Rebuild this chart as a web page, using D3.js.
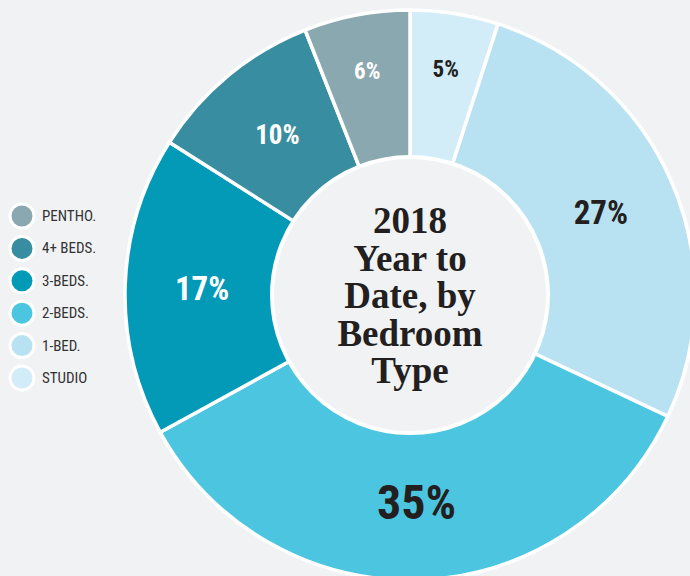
<!DOCTYPE html>
<html>
<head>
<meta charset="utf-8">
<script src="https://cdn.jsdelivr.net/npm/d3@7"></script>
<style>
  html, body { margin: 0; padding: 0; background: #f1f2f4; }
  svg { display: block; }
</style>
</head>
<body>
<svg id="chart" width="690" height="576"></svg>
<script>
// Share of sales by bedroom type, clockwise from 12 o'clock
const categories = ["STUDIO", "1-BED.", "2-BEDS.", "3-BEDS.", "4+ BEDS.", "PENTHO."];
const shares = [5, 27, 35, 17, 10, 6];
const colors = ["#d2edf8", "#b8e2f2", "#4cc6e0", "#039ab8", "#388ea0", "#8aa8af"];
const labelColors = ["#231f20", "#231f20", "#231f20", "#ffffff", "#ffffff", "#ffffff"];
const labelSizes = [23, 33, 48, 33, 27, 23];
const legendOrder = ["PENTHO.", "4+ BEDS.", "3-BEDS.", "2-BEDS.", "1-BED.", "STUDIO"];
const titleLines = ["2018", "Year to", "Date, by", "Bedroom", "Type"];

const svg = d3.select("#chart");
const W = 690, H = 576;
const cx = 410, cy = 295;
const outerR = 285, innerR = 138;
const condensed = "'Liberation Sans Narrow', 'Roboto Condensed', 'Arial Narrow', sans-serif";

svg.append("rect").attr("width", W).attr("height", H).attr("fill", "#f1f2f4");

const color = d3.scaleOrdinal().domain(categories).range(colors);

const pie = d3.pie().sort(null).value(d => d.value);
const arcs = pie(categories.map((c, i) => ({ name: c, value: shares[i], i })));

const arc = d3.arc().innerRadius(0).outerRadius(outerR);
const g = svg.append("g").attr("transform", `translate(${cx},${cy})`);

g.selectAll("path.slice")
  .data(arcs)
  .join("path")
  .attr("class", "slice")
  .attr("d", arc)
  .attr("fill", d => color(d.data.name))
  .attr("stroke", "#ffffff")
  .attr("stroke-width", 3.5)
  .attr("stroke-linejoin", "round");

// center hole
g.append("circle")
  .attr("r", innerR)
  .attr("fill", "#f1f2f4")
  .attr("stroke", "#ffffff")
  .attr("stroke-width", 4);

// percentage labels
const labelArcBig = d3.arc().innerRadius(208).outerRadius(208);
const labelArcSmall = d3.arc().innerRadius(228).outerRadius(228);
g.selectAll("text.pct")
  .data(arcs)
  .join("text")
  .attr("class", "pct")
  .attr("transform", d => {
    const a = d.data.value < 8 ? labelArcSmall : labelArcBig;
    const [x, y] = a.centroid(d);
    return `translate(${x},${y})`;
  })
  .attr("text-anchor", "middle")
  .attr("dominant-baseline", "central")
  .attr("font-family", condensed)
  .attr("font-weight", "bold")
  .attr("font-size", d => labelSizes[d.data.i])
  .attr("fill", d => labelColors[d.data.i])
  .text(d => d.data.value + "%");

// center title
const title = g.append("text")
  .attr("text-anchor", "middle")
  .attr("font-family", "'Liberation Serif', 'DejaVu Serif', serif")
  .attr("font-weight", "bold")
  .attr("font-size", 37)
  .attr("fill", "#231f20");
titleLines.forEach((t, i) => {
  title.append("tspan")
    .attr("x", 0)
    .attr("y", -62 + i * 37.5)
    .text(t);
});

// legend
const legendY = d3.scalePoint().domain(legendOrder).range([216, 378]);
const legend = svg.append("g");
const item = legend.selectAll("g")
  .data(legendOrder)
  .join("g")
  .attr("transform", d => `translate(22,${legendY(d)})`);
item.append("circle")
  .attr("r", 12)
  .attr("fill", d => color(d))
  .attr("stroke", "#ffffff")
  .attr("stroke-width", 3);
item.append("text")
  .attr("x", 20)
  .attr("dominant-baseline", "central")
  .attr("font-family", condensed)
  .attr("font-size", 15)
  .attr("fill", "#333333")
  .text(d => d);
</script>
</body>
</html>
